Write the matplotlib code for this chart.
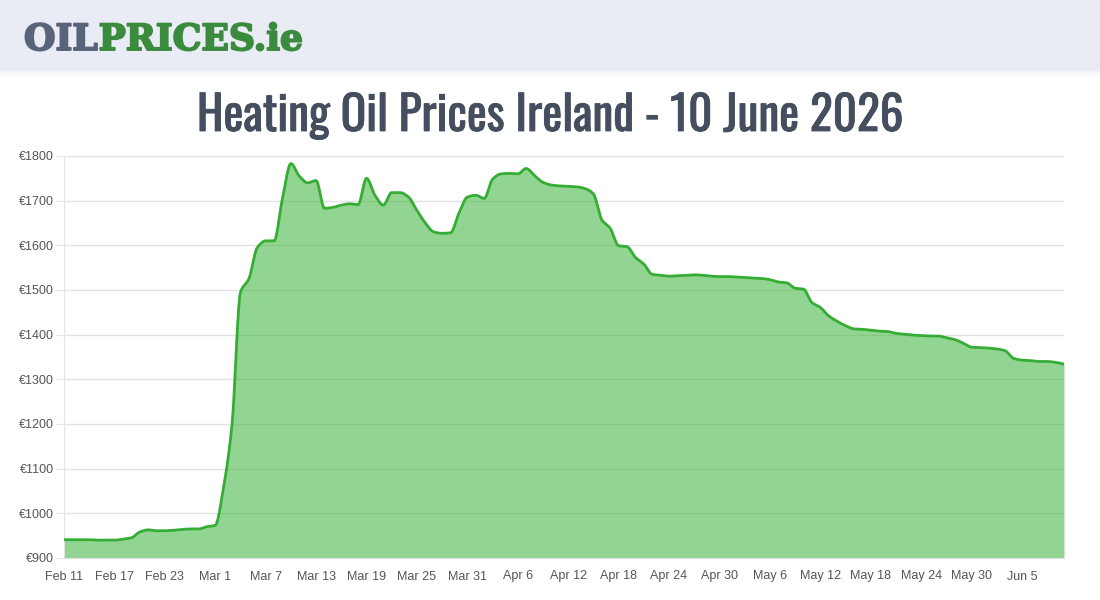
import numpy as np
import pandas as pd
import matplotlib
matplotlib.use("Agg")
import matplotlib.pyplot as plt
import matplotlib.patheffects as pe
from matplotlib.patches import Rectangle
from matplotlib import font_manager

# daily heating oil price (EUR), 11 Feb - 10 Jun 2026
dates = pd.date_range("2026-02-11", "2026-06-10", freq="D")
prices = [
    941, 941, 941, 941, 940, 940, 940, 942, 945, 958,
    963, 961, 961, 962, 964, 965, 965, 970, 973, 1060,
    1200, 1495, 1525, 1595, 1610, 1610, 1705, 1783, 1755, 1740,
    1745, 1683, 1685, 1690, 1693, 1691, 1750, 1712, 1690, 1718,
    1718, 1708, 1678, 1650, 1630, 1627, 1628, 1672, 1708, 1712,
    1705, 1748, 1760, 1761, 1760, 1772, 1756, 1741, 1735, 1733,
    1732, 1731, 1727, 1715, 1657, 1638, 1599, 1597, 1573, 1558,
    1535, 1533, 1531, 1532, 1533, 1534, 1533, 1531, 1530, 1530,
    1529, 1528, 1527, 1526, 1523, 1518, 1516, 1504, 1502, 1472,
    1461, 1442, 1430, 1420, 1413, 1412, 1410, 1408, 1407, 1403,
    1401, 1399, 1398, 1397, 1397, 1393, 1389, 1381, 1372, 1371,
    1370, 1368, 1364, 1347, 1343, 1342, 1340, 1340, 1338, 1334,
]
tick_labels = ["Feb 11", "Feb 17", "Feb 23", "Mar 1", "Mar 7", "Mar 13", "Mar 19",
               "Mar 25", "Mar 31", "Apr 6", "Apr 12", "Apr 18", "Apr 24", "Apr 30",
               "May 6", "May 12", "May 18", "May 24", "May 30", "Jun 5"]
y_ticks = [900, 1000, 1100, 1200, 1300, 1400, 1500, 1600, 1700, 1800]


def pchip(x, y, xs):
    # monotone cubic, like chart.js "monotone" lines
    x = np.asarray(x, float)
    y = np.asarray(y, float)
    h = np.diff(x)
    d = np.diff(y) / h
    m = np.zeros_like(y)
    for i in range(1, len(y) - 1):
        if d[i - 1] * d[i] > 0:
            w1 = 2 * h[i] + h[i - 1]
            w2 = h[i] + 2 * h[i - 1]
            m[i] = (w1 + w2) / (w1 / d[i - 1] + w2 / d[i])
    m[0] = d[0]
    m[-1] = d[-1]
    idx = np.clip(np.searchsorted(x, xs) - 1, 0, len(x) - 2)
    t = (xs - x[idx]) / h[idx]
    h00 = 2 * t**3 - 3 * t**2 + 1
    h10 = t**3 - 2 * t**2 + t
    h01 = -2 * t**3 + 3 * t**2
    h11 = t**3 - t**2
    return h00 * y[idx] + h10 * h[idx] * m[idx] + h01 * y[idx + 1] + h11 * h[idx] * m[idx + 1]


# pick a condensed face for the title if one is installed
installed = {(f.name, f.stretch) for f in font_manager.fontManager.ttflist}
names = {n for n, _ in installed}
title_font = dict(family="Roboto", weight="bold")
for cand in ["Oswald", "Roboto Condensed", "Liberation Sans Narrow", "Open Sans Condensed"]:
    if cand in names:
        title_font = dict(family=cand, weight="bold")
        break
else:
    if any(n == "DejaVu Sans" and s == "condensed" for n, s in installed):
        title_font = dict(family="DejaVu Sans", stretch="condensed", weight="bold")

plt.rcParams["font.family"] = ["Liberation Sans", "DejaVu Sans"]

fig = plt.figure(figsize=(11, 6), dpi=100)
fig.patch.set_facecolor("white")

# header band with a soft shadow
fig.patches.append(Rectangle((0, 1 - 70 / 600), 1, 70 / 600, transform=fig.transFigure,
                             facecolor="#e9ecf4", edgecolor="none", zorder=0))
for k in range(8):
    fig.patches.append(Rectangle((0, 1 - (71 + k) / 600), 1, 1 / 600, transform=fig.transFigure,
                                 facecolor="#c8ccd6", alpha=0.25 * (1 - k / 8),
                                 edgecolor="none", zorder=0))

# logo
logo_font = dict(family="DejaVu Serif", weight="heavy", fontsize=26)
t1 = fig.text(24 / 1100, 1 - 50 / 600, "OIL", color="#59637a", va="baseline", ha="left",
              path_effects=[pe.withStroke(linewidth=1.4, foreground="#59637a")], **logo_font)
fig.canvas.draw()
bb = t1.get_window_extent()
fig.text(bb.x1 / 1100 + 1 / 1100, 1 - 50 / 600, "PRICES.ie", color="#3a8b3e", va="baseline", ha="left",
         path_effects=[pe.withStroke(linewidth=1.4, foreground="#3a8b3e")], **logo_font)

# title, sized to span the same width as the original
title = fig.text(0.5, 1 - 116 / 600, "Heating Oil Prices Ireland - 10 June 2026",
                 ha="center", va="center", fontsize=30, color="#454e5e", **title_font)
fig.canvas.draw()
w = title.get_window_extent().width
title.set_fontsize(min(36, 30 * 705 / w))
title.set_path_effects([pe.withStroke(linewidth=0.6, foreground="#454e5e")])

ax = fig.add_axes([64 / 1100, 42 / 600, 1000 / 1100, 402 / 600])
x = np.arange(len(prices))
xs = np.linspace(0, len(prices) - 1, 2000)
ys = pchip(x, prices, xs)

ax.fill_between(xs, ys, 900, color="#39b439", alpha=0.55, linewidth=0, zorder=2)
ax.plot(xs, ys, color="#35ad35", linewidth=2, zorder=3)

ax.set_xlim(0, len(prices) - 1)
ax.set_ylim(900, 1800)
ax.set_yticks(y_ticks)
ax.set_yticklabels([f"€{v}" for v in y_ticks])
ax.set_xticks(x[::6])
ax.set_xticklabels(tick_labels)

ax.grid(axis="y", color="#e3e3e3", linewidth=1, zorder=1)
ax.set_axisbelow(True)
for s in ["top", "right"]:
    ax.spines[s].set_visible(False)
ax.spines["left"].set_color("#e3e3e3")
ax.spines["bottom"].set_color("#e3e3e3")
ax.tick_params(axis="y", length=6, color="#e3e3e3", labelsize=9, labelcolor="#555555", pad=1.5)
ax.tick_params(axis="x", length=0, labelsize=9, labelcolor="#555555", pad=9)

fig.savefig("out.png", dpi=100)
